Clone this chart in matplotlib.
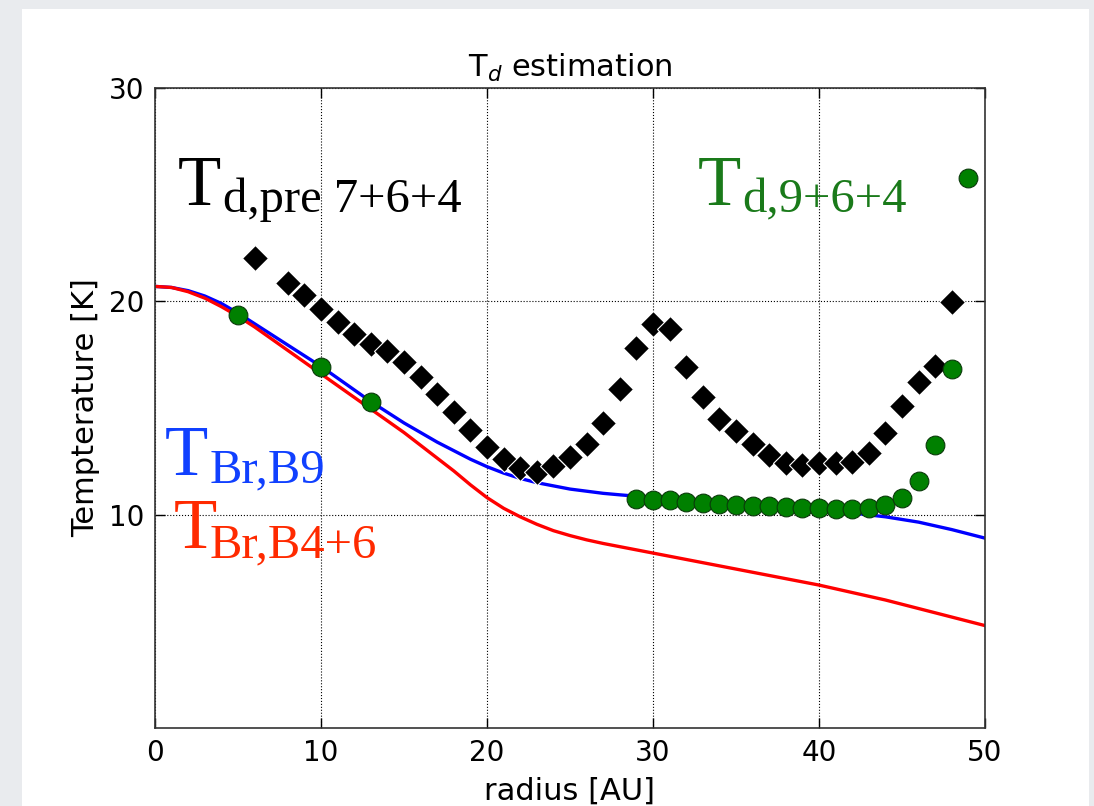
import matplotlib
matplotlib.use("Agg")
import matplotlib.pyplot as plt
from matplotlib.patches import Rectangle

# -------------------------------------------------------
# data
# -------------------------------------------------------
r_curve = [0, 1, 2, 3, 4, 5, 6, 7, 8, 9, 10, 11, 12, 13, 14, 15, 16, 17, 18,
           19, 20, 21, 22, 23, 24, 25, 26, 27, 28, 30, 32, 34, 36, 38, 40,
           42, 44, 46, 48, 50]
t_br_b9 = [20.7, 20.65, 20.5, 20.25, 19.9, 19.45, 18.95, 18.45, 17.95, 17.45,
           16.95, 16.4, 15.85, 15.3, 14.8, 14.3, 13.85, 13.4, 13.0, 12.6,
           12.25, 11.95, 11.7, 11.5, 11.35, 11.2, 11.1, 11.0, 10.93, 10.8,
           10.68, 10.56, 10.45, 10.35, 10.22, 10.08, 9.9, 9.65, 9.3, 8.9]
t_br_b46 = [20.7, 20.65, 20.45, 20.15, 19.75, 19.3, 18.8, 18.25, 17.7, 17.15,
            16.6, 16.05, 15.5, 14.95, 14.4, 13.85, 13.25, 12.65, 12.05, 11.4,
            10.8, 10.3, 9.9, 9.55, 9.25, 9.02, 8.82, 8.65, 8.5, 8.2, 7.9,
            7.6, 7.3, 7.0, 6.7, 6.35, 6.0, 5.6, 5.2, 4.8]

r_pre = [6, 8, 9, 10, 11, 12, 13, 14, 15, 16, 17, 18, 19, 20, 21, 22, 23,
         24, 25, 26, 27, 28, 29, 30, 31, 32, 33, 34, 35, 36, 37, 38, 39, 40,
         41, 42, 43, 44, 45, 46, 47, 48]
t_pre = [22.05, 20.85, 20.28, 19.66, 19.03, 18.45, 18.0, 17.65, 17.15, 16.45,
         15.65, 14.8, 13.96, 13.18, 12.63, 12.2, 12.02, 12.3, 12.72, 13.3,
         14.3, 15.9, 17.8, 18.95, 18.7, 16.9, 15.5, 14.5, 13.9, 13.3, 12.8,
         12.4, 12.35, 12.4, 12.4, 12.45, 12.87, 13.85, 15.1, 16.2, 16.95, 19.95]

r_964 = [5, 10, 13, 29, 30, 31, 32, 33, 34, 35, 36, 37, 38, 39, 40, 41, 42,
         43, 44, 45, 46, 47, 48, 49]
t_964 = [19.34, 16.92, 15.28, 10.73, 10.7, 10.67, 10.6, 10.55, 10.5, 10.45,
         10.4, 10.4, 10.37, 10.3, 10.3, 10.25, 10.25, 10.3, 10.45, 10.8,
         11.57, 13.25, 16.85, 25.8]

x_ticks = [0, 10, 20, 30, 40, 50]
y_ticks = [10, 20, 30]

# -------------------------------------------------------
# figure
# -------------------------------------------------------
fig = plt.figure(figsize=(10.94, 8.06), dpi=100, facecolor="#e9ebee")
fig.add_artist(Rectangle((22 / 1094, 0), (1089 - 22) / 1094, (806 - 9) / 806,
                         transform=fig.transFigure, facecolor="white",
                         edgecolor="none", zorder=0))

ax = fig.add_axes([155 / 1094, 78 / 806, 830 / 1094, 640 / 806])

ax.plot(r_curve, t_br_b9, color="#0000ff", lw=2.4, zorder=2)
ax.plot(r_curve, t_br_b46, color="#ff0000", lw=2.4, zorder=2)
ax.plot(r_pre, t_pre, ls="none", marker="D", ms=13, color="black",
        mec="white", mew=0.8, zorder=3)
ax.plot(r_964, t_964, ls="none", marker="o", ms=13.5, color="#008000",
        mec="#0a3a0a", mew=0.8, zorder=4)

ax.set_xlim(0, 50)
ax.set_ylim(0, 30)
ax.set_xticks(x_ticks)
ax.set_yticks(y_ticks)
ax.tick_params(direction="in", top=True, right=True, length=7, width=1,
               labelsize=20, pad=8)
ax.grid(True, color="black", ls=":", lw=0.8)
for s in ax.spines.values():
    s.set_linewidth(1.2)
    s.set_color("#333333")

ax.set_title("T$_d$ estimation", fontsize=22, pad=8)
ax.set_xlabel("radius [AU]", fontsize=22, labelpad=7)
ax.set_ylabel("Tempterature [K]", fontsize=22, labelpad=6)

# curve labels (big T + subscript)
serif = "Liberation Serif"
labels = [
    ("d,pre 7+6+4", "black", 0.028, 0.817, 0.082, 0.806),
    ("d,9+6+4", "#1a7a1a", 0.654, 0.817, 0.708, 0.806),
    ("Br,B9", "#1040ff", 0.012, 0.395, 0.066, 0.384),
    ("Br,B4+6", "#ff2a00", 0.022, 0.281, 0.066, 0.267),
]
for sub, col, tx, ty, sx, sy in labels:
    ax.text(tx, ty, "T", transform=ax.transAxes, family=serif, fontsize=51,
            color=col, ha="left", va="baseline", zorder=5)
    ax.text(sx, sy, sub, transform=ax.transAxes, family=serif, fontsize=35,
            color=col, ha="left", va="baseline", zorder=5)

fig.savefig("out.png", dpi=100, facecolor=fig.get_facecolor())
